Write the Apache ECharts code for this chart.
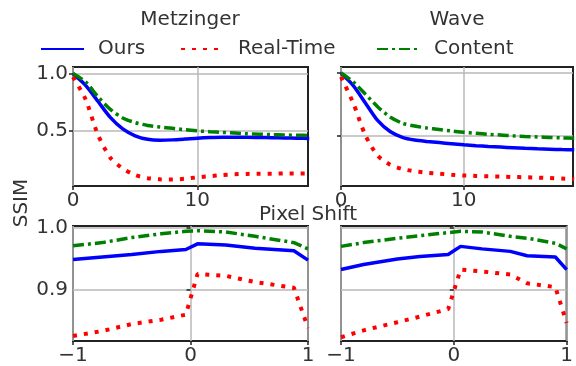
<!DOCTYPE html>
<html><head><meta charset="utf-8">
<script src="https://cdn.jsdelivr.net/npm/echarts@6/dist/echarts.min.js"></script>
<style>html,body{margin:0;padding:0;background:#fff}#c{width:576px;height:366px}</style>
</head><body><div id="c"></div>
<script>
// ---- data ----
const shiftTop = [0,1,2,3,4,5,6,7,8,9,10,11,12,13,14,15,16,17,18,19];
const metzOurs = [1.00,0.90,0.76,0.62,0.52,0.46,0.43,0.422,0.425,0.432,0.44,0.445,0.447,0.448,0.448,0.446,0.444,0.442,0.44,0.438];
const metzReal = [0.97,0.78,0.47,0.27,0.177,0.12,0.093,0.083,0.081,0.088,0.10,0.11,0.12,0.127,0.13,0.131,0.132,0.133,0.133,0.134];
const metzCont = [1.00,0.93,0.80,0.69,0.615,0.575,0.55,0.537,0.525,0.513,0.503,0.496,0.49,0.484,0.478,0.474,0.47,0.467,0.465,0.463];
const waveOurs = [1.00,0.90,0.76,0.62,0.534,0.488,0.466,0.455,0.446,0.437,0.428,0.421,0.415,0.41,0.405,0.40,0.396,0.393,0.39,0.388];
const waveReal = [0.97,0.76,0.50,0.34,0.27,0.235,0.217,0.206,0.198,0.19,0.184,0.18,0.177,0.175,0.172,0.17,0.167,0.163,0.159,0.155];
const waveCont = [1.00,0.93,0.83,0.73,0.65,0.60,0.578,0.562,0.55,0.538,0.528,0.52,0.512,0.506,0.50,0.495,0.491,0.487,0.483,0.48];

const shiftMetzSub = [-1,-0.75,-0.5,-0.25,-0.04,0.06,0.3,0.55,0.88,1];
const metzSubOurs = [0.949,0.953,0.957,0.962,0.965,0.974,0.972,0.967,0.963,0.948];
const metzSubReal = [0.827,0.835,0.846,0.853,0.861,0.926,0.923,0.913,0.904,0.84];
const metzSubCont = [0.971,0.976,0.984,0.990,0.994,0.995,0.993,0.986,0.976,0.966];

const shiftWaveSub = [-1,-0.8,-0.5,-0.3,-0.05,0.06,0.25,0.5,0.65,0.9,1];
const waveSubOurs = [0.933,0.941,0.950,0.954,0.957,0.970,0.966,0.962,0.955,0.953,0.933];
const waveSubReal = [0.825,0.836,0.849,0.858,0.870,0.933,0.930,0.925,0.911,0.905,0.848];
const waveSubCont = [0.970,0.976,0.983,0.987,0.992,0.994,0.993,0.986,0.983,0.975,0.966];

const topXTicks = [0,10];
const subXTicks = [-1,0,1];
const topYTicks = [0.5,1.0];
const subYTicks = [0.9,1.0];
const seriesNames = ['Ours','Real-Time','Content'];
const panelTitles = ['Metzinger','Wave'];
const xName = 'Pixel Shift';
const yName = 'SSIM';

// ---- styling ----
const FONT = 'DejaVu Sans';
const FS = 20;
const TXT = '#333';
const styles = {
  'Ours': {color:'#0000ff', lineStyle:{color:'#0000ff', width:3.5, type:'solid'}},
  'Real-Time': {color:'#ff0000', lineStyle:{color:'#ff0000', width:4, type:[4,7]}},
  'Content': {color:'#008000', lineStyle:{color:'#008000', width:3.5, type:[11,4,3,4]}}
};
const fmtNum = (d) => (v) => {
  const s = d ? v.toFixed(d) : String(Math.round(v));
  return s.replace('-', '\u2212');
};
function axis(gi, min, max, ticks, showLabel, dec) {
  return {
    type:'value', gridIndex:gi, min:min, max:max,
    axisLine:{show:false},
    axisTick:{show:true, customValues:ticks, length:4, lineStyle:{color:'#222', width:1.5}},
    axisLabel:{show:showLabel, customValues:ticks, margin:5, fontSize:FS, color:TXT, fontFamily:FONT, formatter:fmtNum(dec)},
    splitLine:{show:true, lineStyle:{color:'#b8b8b8', width:1.5}}
  };
}
const grids = [
  {left:73, top:67, width:235, height:119},
  {left:341, top:67, width:232, height:119},
  {left:73, top:226, width:235, height:117},
  {left:341, top:226, width:232, height:117}
].map(g => Object.assign(g, {show:true, borderColor:'#222', borderWidth:2, containLabel:false}));

const xAxes = [
  axis(0, 0, 18.9, topXTicks, true, 0),
  axis(1, 0, 18.9, topXTicks, true, 0),
  axis(2, -1, 1, subXTicks, true, 0),
  axis(3, -1, 1, subXTicks, true, 0)
];
const yAxes = [
  axis(0, 0.025, 1.057, topYTicks, true, 1),
  axis(1, 0.10, 1.048, topYTicks, false, 1),
  axis(2, 0.819, 1.0025, subYTicks, true, 1),
  axis(3, 0.819, 1.0025, subYTicks, false, 1)
];

const panels = [
  {gi:0, x:shiftTop, ys:[metzOurs, metzReal, metzCont], smooth:0.25},
  {gi:1, x:shiftTop, ys:[waveOurs, waveReal, waveCont], smooth:0.25},
  {gi:2, x:shiftMetzSub, ys:[metzSubOurs, metzSubReal, metzSubCont], smooth:false},
  {gi:3, x:shiftWaveSub, ys:[waveSubOurs, waveSubReal, waveSubCont], smooth:false}
];
const series = [];
panels.forEach(p => {
  p.ys.forEach((ys, k) => {
    const name = seriesNames[k];
    series.push({
      type:'line', name:name, xAxisIndex:p.gi, yAxisIndex:p.gi,
      data: p.x.map((x,i) => [x, ys[i]]),
      showSymbol:false, symbol:'none', smooth:p.smooth, clip:true,
      itemStyle:{color:styles[name].color},
      lineStyle:styles[name].lineStyle,
      z: 3 + k, animation:false
    });
  });
});

const legendLefts = [40, 180, 376];
const legends = seriesNames.map((n, i) => ({
  data:[n], left:legendLefts[i], top:39, padding:0, itemWidth:43, itemHeight:14,
  itemStyle:{opacity:0},
  textStyle:{fontSize:FS, color:TXT, fontFamily:FONT, padding:[0,0,0,9]},
  selectedMode:false
}));

const font = FS + 'px "DejaVu Sans"';
const chart = echarts.init(document.getElementById('c'), null, {renderer:'canvas'});
chart.setOption({
  animation:false,
  backgroundColor:'#fff',
  grid:grids, xAxis:xAxes, yAxis:yAxes, series:series,
  legend:legends,
  graphic:[
    {type:'text', x:190, y:20, style:{text:panelTitles[0], font:font, fill:TXT, textAlign:'center', textVerticalAlign:'middle'}},
    {type:'text', x:457, y:20, style:{text:panelTitles[1], font:font, fill:TXT, textAlign:'center', textVerticalAlign:'middle'}},
    {type:'text', x:308, y:215, style:{text:xName, font:font, fill:TXT, textAlign:'center', textVerticalAlign:'middle'}},
    {type:'text', x:22, y:203, rotation:Math.PI/2, style:{text:yName, font:font, fill:TXT, textAlign:'center', textVerticalAlign:'middle'}}
  ]
});
</script></body></html>
